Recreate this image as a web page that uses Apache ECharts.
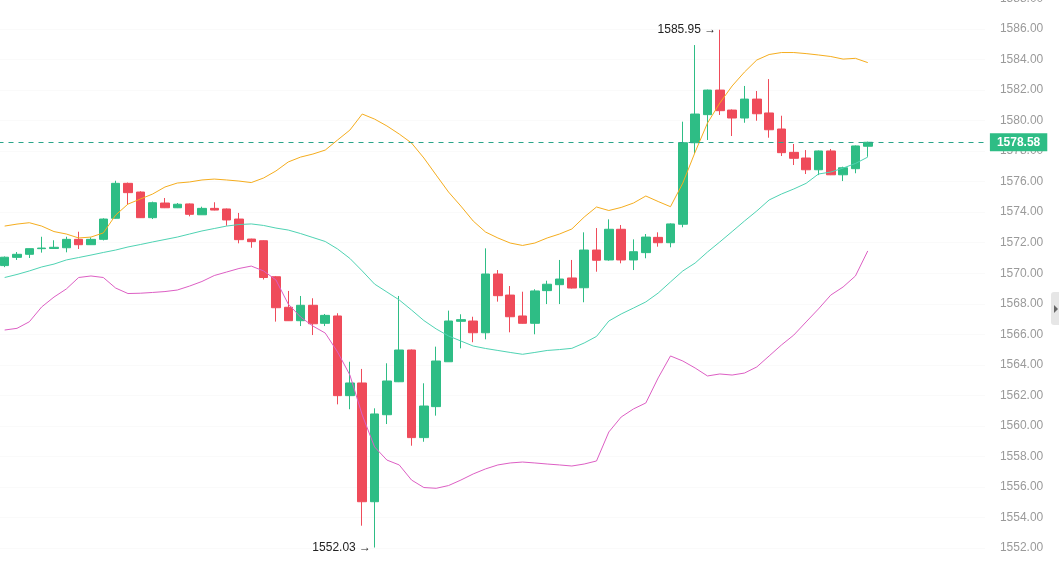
<!DOCTYPE html>
<html>
<head>
<meta charset="utf-8">
<style>
  html, body { margin: 0; padding: 0; background: #fff; }
  #chart-container { width: 1059px; height: 573px; }
</style>
</head>
<body>
<div id="chart-container"></div>
<script src="https://cdn.jsdelivr.net/npm/echarts/dist/echarts.min.js"></script>
<script>
var dom = document.getElementById("chart-container");
var myChart = echarts.init(dom, null, { renderer: "canvas" });

// candles (left to right)
var openVals = [1570.50, 1571.04, 1571.24, 1571.61, 1571.62, 1571.67, 1572.22, 1571.87, 1572.22, 1573.60,
  1575.89, 1575.32, 1573.64, 1574.60, 1574.29, 1574.54, 1573.83, 1574.25, 1574.21, 1573.55,
  1572.24, 1572.13, 1569.77, 1567.77, 1566.89, 1567.90, 1566.72, 1567.20, 1561.98, 1562.81,
  1555.03, 1560.73, 1562.89, 1564.97, 1559.23, 1561.26, 1564.20, 1566.85, 1566.87, 1566.10,
  1569.95, 1568.57, 1567.20, 1566.72, 1568.86, 1569.25, 1569.69, 1569.05, 1571.52, 1570.87,
  1572.88, 1570.87, 1571.35, 1572.35, 1572.00, 1573.21, 1578.55, 1580.39, 1582.00, 1580.69,
  1580.17, 1581.41, 1580.50, 1579.45, 1577.92, 1577.55, 1576.78, 1578.01, 1576.45, 1576.85,
  1578.32];
var closeVals = [1571.05, 1571.24, 1571.61, 1571.65, 1571.70, 1572.22, 1571.87, 1572.22, 1573.55, 1575.89,
  1575.28, 1573.64, 1574.62, 1574.29, 1574.52, 1573.86, 1574.25, 1574.14, 1573.49, 1572.20,
  1572.07, 1569.72, 1567.74, 1566.89, 1567.90, 1566.69, 1567.24, 1561.98, 1562.81, 1555.03,
  1560.78, 1562.94, 1564.97, 1559.23, 1561.30, 1564.25, 1566.87, 1566.96, 1566.10, 1569.95,
  1568.53, 1567.15, 1566.72, 1568.84, 1569.28, 1569.62, 1569.03, 1571.52, 1570.85, 1572.88,
  1570.87, 1571.41, 1572.37, 1572.00, 1573.23, 1578.55, 1580.43, 1582.00, 1580.65, 1580.17,
  1581.41, 1580.45, 1579.40, 1577.90, 1577.53, 1576.78, 1578.01, 1576.45, 1576.91, 1578.34,
  1578.58];
var lowVals = [1570.40, 1570.87, 1571.00, 1571.35, 1571.60, 1571.37, 1571.59, 1571.85, 1572.15, 1573.58,
  1574.47, 1573.62, 1573.55, 1574.27, 1574.27, 1573.73, 1573.82, 1574.12, 1573.11, 1571.96,
  1571.67, 1569.59, 1566.83, 1566.87, 1566.54, 1565.95, 1566.54, 1561.41, 1561.09, 1553.46,
  1552.03, 1560.12, 1562.87, 1558.70, 1558.96, 1560.67, 1564.19, 1565.08, 1565.48, 1565.67,
  1568.14, 1566.13, 1566.70, 1566.00, 1567.98, 1567.98, 1569.00, 1568.10, 1570.10, 1570.82,
  1570.65, 1570.21, 1570.98, 1571.74, 1571.70, 1573.01, 1577.86, 1578.73, 1580.37, 1578.99,
  1579.86, 1579.99, 1578.88, 1577.68, 1577.09, 1576.50, 1576.43, 1576.43, 1576.04, 1576.55,
  1577.63];
var highVals = [1571.10, 1571.39, 1571.62, 1572.39, 1572.16, 1572.39, 1572.72, 1572.35, 1573.60, 1576.06,
  1575.94, 1575.37, 1574.69, 1574.93, 1574.60, 1574.57, 1574.36, 1574.65, 1574.24, 1573.95,
  1572.26, 1572.15, 1569.82, 1568.84, 1568.51, 1568.36, 1567.33, 1567.38, 1564.20, 1563.73,
  1561.15, 1564.10, 1568.51, 1565.00, 1562.79, 1565.19, 1567.55, 1567.31, 1567.15, 1571.63,
  1570.21, 1569.16, 1568.79, 1568.95, 1569.51, 1570.87, 1570.87, 1572.68, 1572.96, 1573.53,
  1573.16, 1572.22, 1572.57, 1572.68, 1573.27, 1579.93, 1584.95, 1582.03, 1585.95, 1580.73,
  1582.27, 1581.94, 1582.72, 1580.32, 1578.47, 1578.07, 1578.04, 1578.14, 1576.98, 1578.37,
  1578.62];

// bollinger bands
var upperBand = [1573.09, 1573.22, 1573.31, 1573.09, 1572.73, 1572.57, 1572.31, 1572.37, 1572.64, 1573.81,
  1574.53, 1574.86, 1575.19, 1575.65, 1575.91, 1575.98, 1576.11, 1576.17, 1576.11, 1576.04,
  1575.94, 1576.24, 1576.70, 1577.29, 1577.61, 1577.81, 1578.07, 1578.73, 1579.38, 1580.43,
  1580.10, 1579.65, 1579.12, 1578.53, 1577.55, 1576.43, 1575.32, 1574.40, 1573.42, 1572.70,
  1572.31, 1571.98, 1571.82, 1571.98, 1572.31, 1572.57, 1572.90, 1573.68, 1574.34, 1574.11,
  1574.31, 1574.60, 1575.06, 1574.70, 1574.36, 1575.91, 1577.94, 1579.84, 1581.15, 1582.27,
  1583.18, 1583.97, 1584.33, 1584.46, 1584.46, 1584.39, 1584.30, 1584.20, 1584.03, 1584.08,
  1583.80];
var midBand = [1569.72, 1569.92, 1570.15, 1570.41, 1570.60, 1570.87, 1571.03, 1571.19, 1571.36, 1571.52,
  1571.72, 1571.88, 1572.05, 1572.21, 1572.37, 1572.57, 1572.77, 1572.93, 1573.09, 1573.19,
  1573.23, 1573.13, 1572.96, 1572.83, 1572.60, 1572.34, 1572.08, 1571.59, 1570.97, 1570.15,
  1569.29, 1568.77, 1568.25, 1567.59, 1566.90, 1566.35, 1565.89, 1565.56, 1565.23, 1565.07,
  1564.94, 1564.81, 1564.69, 1564.81, 1564.94, 1565.00, 1565.08, 1565.43, 1565.86, 1566.87,
  1567.33, 1567.72, 1568.12, 1568.70, 1569.43, 1570.15, 1570.67, 1571.39, 1572.05, 1572.73,
  1573.42, 1574.08, 1574.80, 1575.19, 1575.52, 1575.89, 1576.50, 1576.63, 1576.89, 1577.19,
  1577.61];
var lowerBand = [1566.28, 1566.39, 1566.82, 1567.79, 1568.44, 1568.97, 1569.72, 1569.82, 1569.72, 1569.03,
  1568.67, 1568.69, 1568.74, 1568.80, 1568.90, 1569.16, 1569.46, 1569.85, 1570.08, 1570.31,
  1570.47, 1570.15, 1569.56, 1567.98, 1567.13, 1566.54, 1566.08, 1564.84, 1563.33, 1560.71,
  1558.62, 1557.76, 1557.44, 1556.45, 1555.96, 1555.91, 1556.09, 1556.45, 1556.85, 1557.18,
  1557.44, 1557.57, 1557.63, 1557.57, 1557.50, 1557.44, 1557.37, 1557.50, 1557.70, 1559.60,
  1560.58, 1561.11, 1561.50, 1563.14, 1564.58, 1564.25, 1563.79, 1563.27, 1563.40, 1563.33,
  1563.46, 1563.86, 1564.58, 1565.30, 1565.95, 1566.81, 1567.66, 1568.57, 1569.10, 1569.82,
  1571.46];

var lastPrice = 1578.58;
var highMark = { index: 58, value: 1585.95 };
var lowMark = { index: 30, value: 1552.03 };

var upColor = "#2ebd85";
var downColor = "#ef4b5a";
var emptySlots = 9; // blank room on the right of the last candle

var categories = [];
var candleData = [];
for (var i = 0; i < openVals.length + emptySlots; i++) {
  categories.push(String(i));
  if (i < openVals.length) {
    candleData.push([openVals[i], closeVals[i], lowVals[i], highVals[i]]);
  }
}

function bandSeries(name, values, color) {
  return {
    name: name,
    type: "line",
    data: values,
    symbol: "none",
    smooth: false,
    silent: true,
    lineStyle: { color: color, width: 1 },
    z: 3,
  };
}

var option = {
  backgroundColor: "#fff",
  animation: false,
  grid: {
    left: -1.5,
    top: -1.5,
    width: 986.4,
    height: 580,
    containLabel: false,
    outerBoundsMode: "none",
  },
  xAxis: {
    type: "category",
    data: categories,
    boundaryGap: true,
    axisLine: { show: false },
    axisTick: { show: false },
    axisLabel: { show: false },
    splitLine: { show: false },
  },
  yAxis: {
    type: "value",
    position: "right",
    min: 1550,
    max: 1588,
    interval: 2,
    axisLine: { show: false },
    axisTick: { show: false },
    splitLine: { show: true, lineStyle: { color: "#fafafa", width: 1 } },
    axisLabel: {
      color: "#9a9a9a",
      fontSize: 12,
      margin: 15,
      fontFamily: "Liberation Sans, Arial, sans-serif",
      formatter: function (v) {
        return v.toFixed(2);
      },
    },
  },
  series: [
    {
      name: "K",
      type: "candlestick",
      data: candleData,
      barWidth: 9,
      itemStyle: {
        color: upColor,
        color0: downColor,
        borderColor: upColor,
        borderColor0: downColor,
        borderWidth: 1,
      },
      markPoint: {
        symbol: "circle",
        symbolSize: 1,
        silent: true,
        itemStyle: { color: "rgba(0,0,0,0)" },
        label: {
          show: true,
          position: "left",
          distance: 3,
          color: "#222",
          fontSize: 12,
          fontFamily: "Liberation Sans, Arial, sans-serif",
          formatter: function (p) {
            return p.value.toFixed(2) + " \u2192";
          },
        },
        data: [
          { coord: [highMark.index, highMark.value], value: highMark.value },
          { coord: [lowMark.index, lowMark.value], value: lowMark.value },
        ],
      },
      markLine: {
        symbol: ["none", "none"],
        silent: true,
        animation: false,
        lineStyle: { color: "#2ba58a", type: [5, 5], width: 1 },
        label: {
          show: true,
          position: "end",
          distance: 5,
          color: "#fff",
          backgroundColor: upColor,
          padding: [3, 7, 3, 7],
          fontWeight: "bold",
          fontSize: 12,
          fontFamily: "Liberation Sans, Arial, sans-serif",
          formatter: function (p) {
            return p.value.toFixed(2);
          },
        },
        data: [{ yAxis: lastPrice }],
        z: 10,
      },
    },
    bandSeries("UP", upperBand, "#f5ad1e"),
    bandSeries("MID", midBand, "#4fd3b3"),
    bandSeries("DN", lowerBand, "#dd5fc4"),
  ],
  graphic: [
    {
      type: "rect",
      shape: { x: 1051, y: 292, width: 10, height: 33, r: 3 },
      style: { fill: "#e6e6e6" },
    },
    {
      type: "polygon",
      shape: { points: [[1054, 305], [1054, 313], [1058, 309]] },
      style: { fill: "#666" },
    },
  ],
};

myChart.setOption(option);

window.addEventListener("resize", function () {
  myChart.resize();
});
</script>
</body>
</html>
